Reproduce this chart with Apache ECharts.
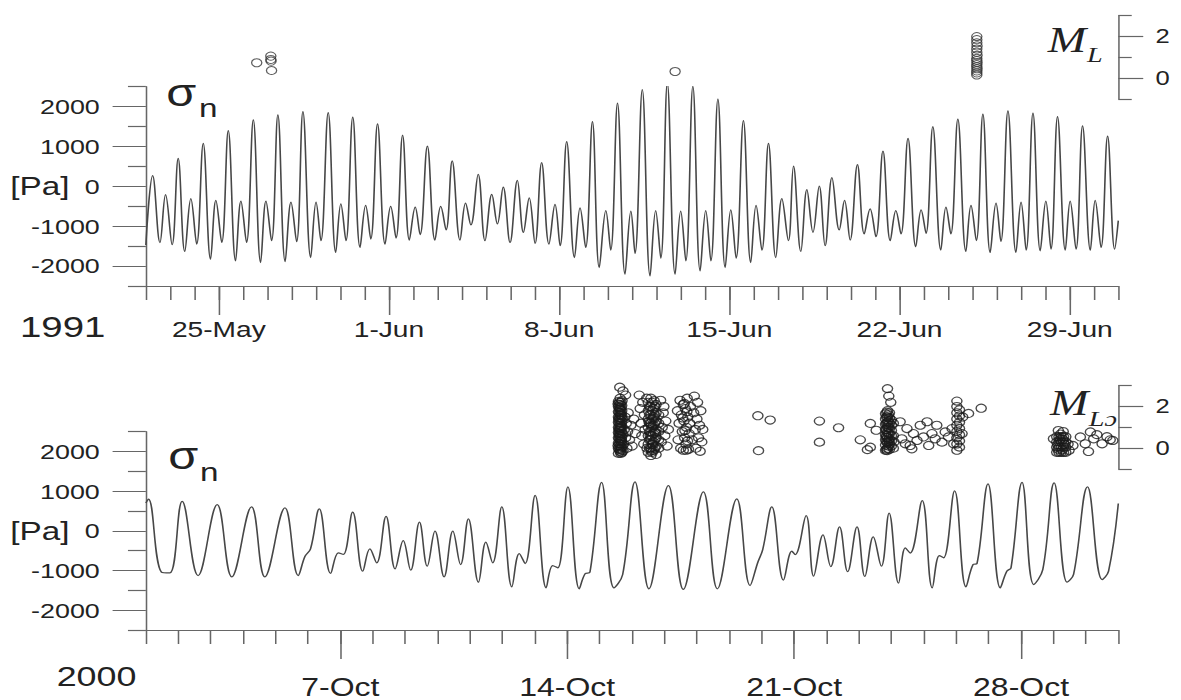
<!DOCTYPE html>
<html><head><meta charset="utf-8">
<script src="https://cdn.jsdelivr.net/npm/echarts/dist/echarts.min.js"></script>
<style>
html,body{margin:0;padding:0;background:#fff;overflow:hidden}
#wrap{width:1181px;height:700px;overflow:hidden;position:relative;background:#fff}
#c{width:923px;height:700px;transform:scaleX(1.27952);transform-origin:0 0}
</style></head><body><div id="wrap"><div id="c"></div></div>
<script>
// ---- 1991 panel: normal stress (days from 22-May-1991 00:00, Pa)
const t91 = [0,0.28,0.58,0.81,1.08,1.33,1.60,1.85,2.09,2.36,2.66,2.88,3.12,3.39,3.69,3.91,4.14,4.42,4.72,4.94,5.17,5.43,5.73,5.97,6.20,6.46,6.78,7.00,7.20,7.50,7.81,8.02,8.23,8.51,8.81,9.04,9.25,9.53,9.84,10.07,10.29,10.56,10.84,11.08,11.28,11.58,11.89,12.13,12.35,12.60,12.92,13.15,13.37,13.67,13.95,14.23,14.46,14.70,14.98,15.28,15.53,15.77,16.01,16.28,16.58,16.83,17.04,17.31,17.63,17.86,18.09,18.37,18.65,18.92,19.12,19.40,19.71,19.95,20.12,20.42,20.74,20.97,21.18,21.45,21.77,22.00,22.21,22.50,22.80,23.03,23.24,23.53,23.83,24.06,24.28,24.58,24.88,25.10,25.34,25.61,25.91,26.16,26.43,26.64,26.94,27.19,27.44,27.70,27.94,28.22,28.52,28.74,28.97,29.27,29.55,29.79,30.03,30.32,30.62,30.85,31.06,31.35,31.67,31.89,32.09,32.37,32.70,32.91,33.11,33.40,33.73,33.94,34.16,34.43,34.73,34.97,35.17,35.46,35.79,36.00,36.21,36.49,36.79,37.02,37.23,37.50,37.82,38.02,38.26,38.53,38.85,39.05,39.29,39.56,39.85,40.0];
const v91 = [-1470,270,-1410,-210,-1465,700,-1633,-311,-1448,1078,-1826,-354,-1406,1397,-1869,-370,-1406,1667,-1911,-370,-1364,1793,-1886,-396,-1389,1877,-1785,-396,-1364,1852,-1659,-438,-1364,1734,-1532,-480,-1321,1566,-1448,-505,-1296,1288,-1347,-522,-1212,1010,-1347,-505,-1094,640,-1347,-421,-968,303,-1364,-202,-943,-17,-1406,152,-1153,-286,-1431,598,-1448,-455,-1490,1119,-1785,-539,-1532,1624,-2038,-606,-1600,2088,-2205,-623,-1684,2424,-2247,-606,-1801,2593,-2205,-623,-1869,2508,-2121,-606,-1869,2189,-2038,-589,-1801,1650,-1911,-480,-1600,1078,-1785,-311,-1364,505,-1633,-84,-1153,8,-1490,219,-1094,-354,-1347,547,-1195,-564,-1263,884,-1364,-606,-1195,1204,-1515,-589,-1178,1498,-1600,-522,-1195,1684,-1633,-480,-1364,1810,-1659,-421,-1381,1894,-1659,-396,-1600,1835,-1616,-370,-1574,1751,-1600,-370,-1574,1515,-1600,-354,-1532,1263,-1574,-860];
// 1991 events: [day, M_L]
const ml91 = [[4.56,0.74],[5.14,1.06],[5.14,0.90],[5.15,0.82],[5.17,0.37],[21.77,0.32],
 [34.18,2.0],[34.18,1.85],[34.18,1.7],[34.19,1.55],[34.18,1.4],[34.18,1.25],[34.19,1.1],[34.18,0.95],[34.18,0.85],[34.19,0.75],[34.18,0.65],[34.18,0.55],[34.19,0.45],[34.18,0.35],[34.18,0.25],[34.18,0.15]];
const maj91 = [3,10,17,24,31,38];
const lab91 = ['25-May','1-Jun','8-Jun','15-Jun','22-Jun','29-Jun'];

// ---- 2000 panel (days from 1-Oct-2000 00:00, Pa)
const t00 = [0,0.08,0.48,0.74,1.12,1.61,2.20,2.65,3.26,3.67,4.29,4.70,4.91,5.08,5.35,5.70,5.94,6.09,6.38,6.69,6.91,7.12,7.41,7.69,7.94,8.17,8.44,8.68,8.92,9.20,9.47,9.71,9.95,10.26,10.49,10.70,10.98,11.29,11.52,11.70,12.01,12.35,12.55,12.71,13.02,13.37,13.55,13.70,14.06,14.44,14.71,15.09,15.52,16.12,16.58,17.20,17.63,18.23,18.64,18.88,19.03,19.31,19.67,19.93,20.03,20.37,20.60,20.89,21.13,21.40,21.65,21.94,22.18,22.44,22.69,22.93,23.22,23.43,23.58,23.95,24.26,24.48,24.61,24.95,25.30,25.52,25.64,25.98,26.36,26.56,26.69,27.03,27.39,27.67,28.02,28.42,28.62,29.05,29.50,29.70,30.0];
const v00 = [700,800,-1040,-1060,746,-1126,662,-1159,604,-1159,579,-1126,-640,-453,554,-1075,-554,-596,469,-1017,-453,-806,368,-957,-244,-992,217,-891,-8,-1159,-8,-849,302,-1295,-287,-806,604,-1411,-572,-824,897,-1436,-874,-932,1108,-1461,-1083,-1042,1224,-1436,-1100,1234,-1461,1141,-1478,982,-1461,806,-1378,-791,-471,604,-1240,-514,-597,385,-1140,-100,-900,100,-1030,100,-1150,-150,-890,450,-1320,-430,-560,760,-1436,-622,-680,1005,-1411,-849,-824,1184,-1436,-1017,-932,1224,-1353,-980,1209,-1295,-1100,1108,-1227,-1017,688];
const ml00 = [
 [14.62,2.93],[14.72,2.75],[14.80,2.55],
 [14.58,-0.25],[14.58,0.0],[14.58,0.25],[14.58,0.5],[14.58,0.75],[14.58,1.0],[14.58,1.25],[14.58,1.5],[14.58,1.75],[14.58,2.0],[14.58,2.25],
 [14.605,-0.05],[14.605,0.2],[14.605,0.45],[14.605,0.7],[14.605,0.95],[14.605,1.2],[14.605,1.45],[14.605,1.7],[14.605,1.95],[14.605,2.2],
 [14.63,-0.15],[14.63,0.1],[14.63,0.35],[14.63,0.6],[14.63,0.85],[14.63,1.1],[14.63,1.35],[14.63,1.6],[14.63,1.85],[14.63,2.1],[14.63,2.4],
 [14.655,-0.25],[14.655,0.0],[14.655,0.2],[14.655,0.45],[14.655,0.7],[14.655,0.95],[14.655,1.2],[14.655,1.45],[14.655,1.7],[14.655,1.95],[14.655,2.2],
 [14.68,-0.2],[14.68,0.05],[14.68,0.3],[14.68,0.55],[14.68,0.8],[14.68,1.05],[14.68,1.3],[14.68,1.55],[14.68,1.8],[14.68,2.05],
 [14.57,0.12],[14.61,0.62],[14.64,1.02],[14.59,1.38],[14.66,1.62],[14.62,1.88],[14.60,0.88],[14.67,0.38],[14.57,2.12],[14.65,-0.08],[14.70,1.42],[14.71,0.68],[14.69,2.28],[14.72,-0.12],
 [14.74,0.2],[14.76,0.9],[14.78,1.5],[14.80,0.5],[14.82,1.2],[14.84,0.0],[14.86,0.8],[14.88,1.7],[14.92,0.4],[14.96,1.1],[15.00,0.1],[15.05,1.4],[15.10,0.7],
 [15.22,2.55],[15.25,1.9],[15.28,1.2],[15.30,0.6],[15.33,2.2],[15.36,0.2],[15.38,1.6],[15.40,0.9],[15.45,2.4],[15.46,0.0],
 [15.50,-0.2],[15.50,0.2],[15.50,0.6],[15.50,1.0],[15.50,1.4],[15.50,1.8],[15.50,2.2],
 [15.54,0.0],[15.54,0.4],[15.54,0.8],[15.54,1.2],[15.54,1.6],[15.54,2.0],
 [15.58,-0.35],[15.58,0.0],[15.58,0.4],[15.58,0.8],[15.58,1.2],[15.58,1.6],[15.58,2.0],[15.58,2.4],
 [15.62,-0.2],[15.62,0.2],[15.62,0.6],[15.62,1.0],[15.62,1.4],[15.62,1.8],[15.62,2.2],
 [15.66,-0.1],[15.66,0.3],[15.66,0.7],[15.66,1.1],[15.66,1.5],[15.66,1.9],
 [15.70,0.0],[15.70,0.4],[15.70,0.8],[15.70,1.2],[15.70,1.6],[15.70,2.0],
 [15.74,-0.3],[15.74,0.1],[15.74,0.5],[15.74,0.9],[15.74,1.3],[15.74,1.7],[15.74,2.1],
 [15.56,0.62],[15.60,1.08],[15.64,0.18],[15.68,1.42],[15.52,1.28],[15.72,0.72],[15.60,-0.12],[15.68,2.28],
 [15.82,0.0],[15.82,0.4],[15.82,0.8],[15.82,1.2],[15.82,1.6],
 [15.88,2.3],[15.90,0.3],[15.93,1.0],[15.96,1.7],[15.98,2.0],[16.01,0.6],[16.04,1.3],[16.08,0.1],[16.12,0.9],
 [16.40,1.8],[16.42,0.4],[16.45,1.2],[16.48,2.3],[16.50,0.0],[16.52,1.6],[16.55,0.8],[16.58,2.1],[16.58,-0.1],[16.60,1.3],[16.62,0.5],[16.64,1.9],[16.66,0.2],[16.68,1.0],[16.70,2.4],[16.72,1.5],[16.74,-0.05],[16.76,0.7],[16.78,1.2],[16.80,2.0],[16.85,0.4],[16.90,1.7],[16.92,2.5],[16.95,0.9],[16.97,0.0],[17.00,1.4],[17.02,2.2],[17.05,0.5],[17.08,1.1],[17.10,-0.15],[17.12,1.8],[17.15,0.3],[17.18,0.9],
 [16.56,1.45],[16.63,0.85],[16.69,1.75],[16.71,0.35],[16.61,2.15],[16.67,-0.1],
 [18.88,1.56],[19.26,1.35],[18.90,-0.12],
 [20.78,1.30],[20.78,0.29],[21.37,0.98],[22.04,0.40],[22.35,1.19],[22.53,0.86],[22.26,-0.07],[22.35,0.05],
 [22.88,2.86],[22.92,2.5],[22.98,2.2],
 [22.82,-0.1],[22.82,0.15],[22.82,0.4],[22.82,0.65],[22.82,0.9],[22.82,1.15],[22.82,1.4],[22.82,1.65],
 [22.85,-0.05],[22.85,0.3],[22.85,0.6],[22.85,0.9],[22.85,1.2],[22.85,1.5],
 [22.88,0.0],[22.88,0.25],[22.88,0.5],[22.88,0.75],[22.88,1.0],[22.88,1.25],[22.88,1.5],[22.88,1.8],
 [22.91,0.1],[22.91,0.4],[22.91,0.7],[22.91,1.0],[22.91,1.3],[22.91,1.6],
 [22.94,-0.05],[22.94,0.2],[22.94,0.45],[22.94,0.7],[22.94,0.95],[22.94,1.2],[22.94,1.45],[22.94,1.7],
 [22.84,0.52],[22.90,1.12],[22.86,1.72],[22.93,0.32],[22.87,-0.12],
 [23.00,0.1],[23.00,0.35],[23.00,0.6],[23.00,0.85],[23.00,1.1],[23.00,1.35],
 [23.06,0.0],[23.06,0.6],[23.06,1.2],[23.08,0.3],
 [23.27,1.27],[23.32,0.45],[23.48,0.94],[23.58,0.13],[23.68,0.70],[23.79,0.37],[23.89,1.10],[23.99,0.54],[24.10,1.27],[24.15,0.13],[24.25,0.70],[24.35,0.45],[24.40,1.10],[24.56,0.29],[24.66,0.78],[24.76,0.54],[24.87,0.94],[24.92,0.21],[23.63,-0.03],[23.43,0.21],
 [25.02,-0.1],[25.02,0.2],[25.02,0.5],[25.02,0.8],[25.02,1.1],[25.02,1.4],[25.02,1.7],[25.02,2.0],[25.02,2.26],
 [25.10,0.05],[25.10,0.35],[25.10,0.65],[25.10,0.95],[25.10,1.25],[25.10,1.55],[25.10,1.85],[25.20,1.5],[25.18,0.7],
 [25.38,1.67],[25.77,1.92],
 [28.00,0.45],
 [28.10,-0.2],[28.10,0.05],[28.10,0.3],[28.10,0.55],
 [28.17,-0.2],[28.17,0.05],[28.17,0.3],[28.17,0.55],
 [28.24,-0.2],[28.24,0.05],[28.24,0.3],[28.24,0.55],
 [28.31,-0.2],[28.31,0.05],[28.31,0.3],[28.31,0.55],
 [28.38,-0.2],[28.38,0.05],[28.38,0.3],[28.38,0.55],
 [28.13,0.18],[28.20,0.42],[28.27,-0.08],[28.34,0.18],[28.14,-0.05],[28.22,0.68],[28.29,0.42],
 [28.15,0.85],[28.30,0.8],[28.45,0.2],[28.48,-0.1],
 [28.60,0.13],[28.83,0.54],[28.98,0.21],[29.08,-0.16],[29.14,0.78],[29.24,0.45],[29.34,0.65],[29.50,0.21],[29.65,0.55],[29.75,0.40],[29.83,0.37]
];
const maj00 = [6,13,20,27];
const lab00 = ['7-Oct','14-Oct','21-Oct','28-Oct'];

const stressTicks = [-2000,-1000,0,1000,2000];
const stressMinor = [-2500,-1500,-500,500,1500,2500];
const mlTicks = [0,2];
const mlMinor = [-1,1,3];

// ---- styling
const AX = '#666', TXT = '#222', FF = '"Liberation Sans", Arial, sans-serif', SERIF = '"Liberation Serif", "Times New Roman", serif';
const L = 114, R = 49;

function zip(a,b){ return a.map((v,i)=>[v,b[i]]); }
function minorX(g,max){ return {type:'value',gridIndex:g,position:'bottom',min:0,max:max,interval:1,
  axisLine:{show:true,onZero:false,lineStyle:{color:AX,width:1.2}},axisTick:{show:true,length:14,lineStyle:{color:AX,width:1.2}},
  axisLabel:{show:false},splitLine:{show:false}}; }
function majorX(g,max,vals,labs,fs,margin){ return {type:'value',gridIndex:g,position:'bottom',min:0,max:max,
  axisLine:{show:false,onZero:false},axisTick:{show:true,length:29,customValues:vals,lineStyle:{color:AX,width:1.2}},
  axisLabel:{show:true,customValues:vals,formatter:v=>labs[vals.indexOf(Math.round(v))],fontSize:fs,margin:margin,color:TXT,fontFamily:FF},
  splitLine:{show:false}}; }
function hiddenX(g,max){ return {type:'value',gridIndex:g,min:0,max:max,show:false}; }
function stressY(g){ return {type:'value',gridIndex:g,position:'left',min:-2500,max:2500,
  axisLine:{show:true,onZero:false,lineStyle:{color:AX,width:1.2}},axisTick:{show:true,length:26,customValues:stressTicks,lineStyle:{color:AX,width:1.2}},
  axisLabel:{show:true,customValues:stressTicks,formatter:v=>String(v),margin:36,fontSize:21,color:TXT,fontFamily:FF},splitLine:{show:false}}; }
function stressYm(g){ return {type:'value',gridIndex:g,position:'left',min:-2500,max:2500,
  axisLine:{show:false,onZero:false},axisTick:{show:true,length:14,customValues:stressMinor,lineStyle:{color:AX,width:1.2}},
  axisLabel:{show:false},splitLine:{show:false}}; }
function mlY(g){ return {type:'value',gridIndex:g,position:'right',min:-1,max:3,
  axisLine:{show:true,onZero:false,lineStyle:{color:AX,width:1.2}},axisTick:{show:true,length:19.5,customValues:mlTicks,lineStyle:{color:AX,width:1.2}},
  axisLabel:{show:true,customValues:mlTicks,formatter:v=>String(v),margin:29,fontSize:20,color:TXT,fontFamily:FF},splitLine:{show:false}}; }
function mlYm(g){ return {type:'value',gridIndex:g,position:'right',min:-1,max:3,
  axisLine:{show:false,onZero:false},axisTick:{show:true,length:10.5,customValues:mlMinor,lineStyle:{color:AX,width:1.2}},
  axisLabel:{show:false},splitLine:{show:false}}; }

function txt(x,y,text,fs,font,italic){ return {type:'text',x:x,y:y,style:{text:text,fontSize:fs,fontFamily:font||FF,fontStyle:italic?'italic':'normal',fill:TXT,align:'left',verticalAlign:'middle'}}; }

const chart = echarts.init(document.getElementById('c'), null, {renderer:'svg', width:923, height:700});
chart.setOption({
  animation:false,
  backgroundColor:'#fff',
  grid:[
    {left:L,right:R,top:86.7,height:199.3},
    {left:L,right:R,top:15.7,height:83.3},
    {left:L,right:R,top:431.7,height:199.3},
    {left:L,right:R,top:385.7,height:83.3}
  ],
  xAxis:[minorX(0,40),majorX(0,40,maj91,lab91,22,32),hiddenX(1,40),minorX(2,30),majorX(2,30,maj00,lab00,25,45),hiddenX(3,30)],
  yAxis:[stressY(0),stressYm(0),mlY(1),mlYm(1),stressY(2),stressYm(2),mlY(3),mlYm(3)],
  series:[
    {type:'line',xAxisIndex:0,yAxisIndex:0,data:zip(t91,v91),smooth:0.4,showSymbol:false,lineStyle:{color:'#474747',width:1.25}},
    {type:'scatter',xAxisIndex:2,yAxisIndex:2,data:ml91,symbol:'circle',symbolSize:8,itemStyle:{color:'rgba(0,0,0,0)',borderColor:'#333',borderWidth:1}},
    {type:'line',xAxisIndex:3,yAxisIndex:4,data:zip(t00,v00),smooth:0.4,showSymbol:false,lineStyle:{color:'#474747',width:1.25}},
    {type:'scatter',xAxisIndex:5,yAxisIndex:6,data:ml00,symbol:'circle',symbolSize:8,itemStyle:{color:'rgba(0,0,0,0)',borderColor:'#1a1a1a',borderWidth:1.1}}
  ],
  graphic:[
    txt(8,186,'[Pa]',26),
    txt(8,531,'[Pa]',26),
    txt(130,93.3,'σ',38),
    txt(155.5,108,'n',26),
    txt(131.5,455.8,'σ',38),
    txt(156.3,472,'n',26),
    txt(15.6,327,'1991',30),
    txt(44.3,676.7,'2000',28),
    txt(818.8,40,'M',36,SERIF,true),
    txt(849.5,54.5,'L',22,SERIF,true),
    txt(820.6,403.3,'M',36,SERIF,true),
    txt(851,418.5,'Lɔ',22,SERIF,true)
  ]
});
</script></body></html>
